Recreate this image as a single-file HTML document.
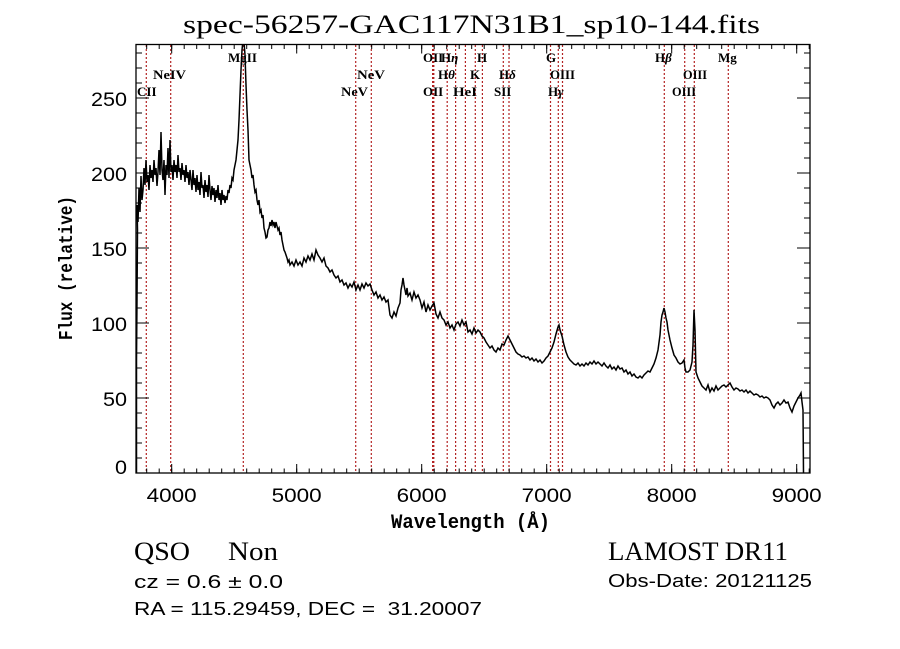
<!DOCTYPE html>
<html><head><meta charset="utf-8"><style>
html,body{margin:0;padding:0;background:#fff;}
svg{display:block;}
.lab{font-family:"Liberation Serif",serif;font-weight:bold;font-size:13px;fill:#000;}
.tk{font-family:"Liberation Sans",sans-serif;font-size:19px;fill:#000;}
</style></head><body>
<svg width="900" height="649" viewBox="0 0 900 649" xmlns="http://www.w3.org/2000/svg">
<rect x="0" y="0" width="900" height="649" fill="#fff"/>
<defs><clipPath id="pc"><rect x="136" y="44.5" width="674" height="428.5"/></clipPath></defs>

<!-- title -->
<text x="183" y="33" font-family="Liberation Serif, serif" font-size="26" textLength="577" lengthAdjust="spacingAndGlyphs">spec-56257-GAC117N31B1_sp10-144.fits</text>

<!-- red dotted lines -->
<g stroke="#b22222" stroke-width="1.2" stroke-dasharray="2 2" fill="none">
<path d="M146.3 45V473M170.7 45V473M243.3 45V473M355.7 45V473M371.3 45V473M432.6 45V473M433.8 45V473M447.2 45V473M455.6 45V473M465.4 45V473M475.3 45V473M482.4 45V473M503.3 45V473M509 45V473M550.5 45V473M558.3 45V473M562.5 45V473M664.3 45V473M684.7 45V473M694.3 45V473M728.3 45V473"/>
</g>

<!-- line labels -->
<g class="lab">
<text x="228" y="62">MgII</text>
<text x="423" y="62">OII</text>
<text x="441" y="62">H<tspan font-style="italic">η</tspan></text>
<text x="477" y="62">H</text>
<text x="546" y="62">G</text>
<text x="655" y="62">H<tspan font-style="italic">β</tspan></text>
<text x="718" y="62">Mg</text>
<text x="153" y="79" textLength="33" lengthAdjust="spacingAndGlyphs">NeIV</text>
<text x="357" y="79" textLength="28" lengthAdjust="spacingAndGlyphs">NeV</text>
<text x="438" y="79">H<tspan font-style="italic">θ</tspan></text>
<text x="470" y="79">K</text>
<text x="499" y="79">H<tspan font-style="italic">δ</tspan></text>
<text x="550" y="79" textLength="25" lengthAdjust="spacingAndGlyphs">OIII</text>
<text x="683" y="79" textLength="24" lengthAdjust="spacingAndGlyphs">OIII</text>
<text x="137" y="96">CII</text>
<text x="341" y="96" textLength="27" lengthAdjust="spacingAndGlyphs">NeV</text>
<text x="423" y="96">OII</text>
<text x="453" y="96" textLength="24" lengthAdjust="spacingAndGlyphs">HeI</text>
<text x="494" y="96">SII</text>
<text x="548" y="96">H<tspan font-style="italic">γ</tspan></text>
<text x="672" y="96" textLength="24" lengthAdjust="spacingAndGlyphs">OIII</text>
</g>

<!-- spectrum -->
<g clip-path="url(#pc)">
<polyline fill="none" stroke="#000" stroke-width="1.5" stroke-linejoin="miter" points="
136.5,473 136.5,360 137,300 137.5,230 137,205 138,222 139,188 140,212 141,176 142,200 143,190 144,168 145,185 146,160 147,182 148,175 149,190 150,165 151,178 152,170 153,182 154,160 155,175 156,168 157,186 158,172 159,150 160,175 161,132 162,170 163,180 164,160 165,195 166,165 167,175 168,148 169,178 170,140 171,172 172,165 173,180 174,160 175,172 176,165 177,178 178,155 179,172 180,168 181,180 182,163 183,175 184,170 185,182 186,165 187,178 188,172 189,185 190,170 191,180 192,190 193,170 194,185 195,178 196,192 197,175 198,190 199,182 200,195 201,172 202,188 203,185 204,198 205,180 206,192 207,185 208,197 209,175 210,190 211,200 212,186 213,195 214,188 215,202 216,190 217,198 218,185 219,200 220,193 221,205 222,190 223,200 224,195 225,203 226,196 227,200 228,190 229,193 230,185 231,188 232,178 233,180 234,170 235,165 236,160 237,150 238,140 239,120 240,95 241,70 242,50 243,40 244,42 245,55 246,85 247,110 248,130 249,160 250,165 251,170 252,178 253,175 254,185 255,192 256,190 257,200 258,205 259,200 260,212 261,210 262,218 263,215 264,228 265,232 266,238 267,237 268,230 269,228 270,222 271,226 272,220 273,225 274,222 275,228 276,222 277,226 278,230 279,228 280,235 281,232 282,240 283,245 284,250 285,252 286,255 287,258 288,262 289,260 290,265 292,262 294,266 296,260 298,265 300,262 302,266 304,258 306,262 308,256 310,260 312,254 314,260 316,250 318,255 320,258 322,262 324,258 326,266 328,268 330,272 332,270 334,275 336,278 338,276 340,282 342,280 344,285 346,283 348,288 350,284 352,287 354,282 356,290 358,285 360,290 362,284 364,288 366,283 368,286 370,284 372,290 374,295 376,292 378,298 380,295 382,300 384,297 386,302 388,300 390,315 392,318 394,312 396,316 398,308 400,303 401,290 402,285 403,278 404,285 405,290 406,295 407,288 408,296 410,293 412,300 414,292 416,298 418,295 420,300 422,308 424,302 426,312 428,305 430,310 432,306 434,303 436,314 438,318 440,312 442,318 444,320 446,325 448,322 450,328 452,325 454,330 456,324 458,322 460,326 462,320 464,325 466,322 468,332 470,330 472,334 474,328 476,333 478,330 480,332 482,336 484,338 486,342 488,345 490,348 492,346 494,350 496,352 498,348 500,350 502,344 504,345 506,340 508,336 510,340 512,344 514,348 516,352 518,354 520,355 522,357 524,356 526,358 528,357 530,360 532,358 534,361 536,359 538,362 540,360 542,363 544,361 546,358 548,356 550,352 552,348 554,342 556,334 558,327 559,325 560,330 562,336 564,345 566,352 568,357 570,360 572,362 574,364 576,365 578,363 580,366 582,364 584,366 586,363 588,365 590,362 592,364 594,361 596,364 598,362 600,364 602,366 604,363 606,366 608,368 610,365 612,369 614,367 616,370 618,366 620,369 622,368 624,372 626,370 628,374 630,372 632,376 634,374 636,377 638,378 640,376 642,378 644,375 646,373 648,371 650,372 652,368 654,364 656,358 658,350 660,335 661,322 662,315 663,312 664,308 665,312 666,318 667,322 668,330 670,340 672,348 674,355 676,358 678,362 680,364 682,363 684,360 685,368 686,372 688,372 690,370 692,362 693,345 694,310 695,330 696,372 698,378 700,382 702,386 704,388 706,390 708,385 710,392 712,388 714,391 716,386 718,390 720,388 722,386 724,385 726,387 728,385 730,383 732,387 734,390 736,388 738,389 740,391 742,390 744,392 746,390 748,393 750,391 752,393 754,395 756,394 758,395 760,397 762,396 764,398 766,397 768,398 770,400 772,405 774,408 776,404 778,402 780,405 782,403 784,400 786,403 788,402 790,408 792,412 794,406 796,402 798,398 800,395 801,393 802,402 803,410 803.5,473"/>
</g>

<!-- axes box -->
<rect x="136" y="44.5" width="674" height="428.5" fill="none" stroke="#000" stroke-width="1.3"/>

<!-- ticks via dash patterns -->
<g stroke="#000" fill="none">
<!-- bottom minor -->
<line x1="146.2" y1="470.8" x2="810" y2="470.8" stroke-width="4.5" stroke-dasharray="1 11.5"/>
<!-- bottom major -->
<line x1="171.2" y1="468.5" x2="810" y2="468.5" stroke-width="9" stroke-dasharray="1 124"/>
<!-- top minor -->
<line x1="146.2" y1="46.75" x2="810" y2="46.75" stroke-width="4.5" stroke-dasharray="1 11.5"/>
<!-- top major -->
<line x1="171.2" y1="49" x2="810" y2="49" stroke-width="9" stroke-dasharray="1 124"/>
<!-- left minor -->
<line x1="139" y1="473.5" x2="139" y2="44" stroke-width="6" stroke-dasharray="1 14"/>
<!-- left major -->
<line x1="142.5" y1="473.5" x2="142.5" y2="44" stroke-width="13" stroke-dasharray="1 74"/>
<!-- right minor -->
<line x1="807" y1="473.5" x2="807" y2="44" stroke-width="6" stroke-dasharray="1 14"/>
<!-- right major -->
<line x1="803.5" y1="473.5" x2="803.5" y2="44" stroke-width="13" stroke-dasharray="1 74"/>
</g>

<!-- x tick labels -->
<g class="tk" text-anchor="middle">
<text x="171.7" y="502" textLength="50" lengthAdjust="spacingAndGlyphs">4000</text>
<text x="296.7" y="502" textLength="50" lengthAdjust="spacingAndGlyphs">5000</text>
<text x="421.7" y="502" textLength="50" lengthAdjust="spacingAndGlyphs">6000</text>
<text x="546.7" y="502" textLength="50" lengthAdjust="spacingAndGlyphs">7000</text>
<text x="671.7" y="502" textLength="50" lengthAdjust="spacingAndGlyphs">8000</text>
<text x="796.7" y="502" textLength="50" lengthAdjust="spacingAndGlyphs">9000</text>
</g>
<!-- y tick labels -->
<g class="tk">
<text x="115" y="474" textLength="12" lengthAdjust="spacingAndGlyphs">0</text>
<text x="103" y="406" textLength="24" lengthAdjust="spacingAndGlyphs">50</text>
<text x="91" y="331" textLength="36" lengthAdjust="spacingAndGlyphs">100</text>
<text x="91" y="256" textLength="36" lengthAdjust="spacingAndGlyphs">150</text>
<text x="91" y="181" textLength="36" lengthAdjust="spacingAndGlyphs">200</text>
<text x="91" y="106" textLength="36" lengthAdjust="spacingAndGlyphs">250</text>
</g>

<!-- axis titles -->
<text x="391" y="528" font-family="Liberation Mono, monospace" font-weight="bold" font-size="20" textLength="159" lengthAdjust="spacingAndGlyphs">Wavelength (Å)</text>
<text transform="translate(72,340) rotate(-90)" x="0" y="0" font-family="Liberation Mono, monospace" font-weight="bold" font-size="19" textLength="144" lengthAdjust="spacingAndGlyphs">Flux (relative)</text>

<!-- bottom info -->
<text x="134" y="560" font-family="Liberation Serif, serif" font-size="26" textLength="56" lengthAdjust="spacingAndGlyphs">QSO</text>
<text x="228" y="560" font-family="Liberation Serif, serif" font-size="26" textLength="50" lengthAdjust="spacingAndGlyphs">Non</text>
<text x="134" y="588" font-family="Liberation Sans, sans-serif" font-size="18" textLength="149" lengthAdjust="spacingAndGlyphs">cz = 0.6 ± 0.0</text>
<text x="134" y="615" font-family="Liberation Sans, sans-serif" font-size="18" textLength="348" lengthAdjust="spacingAndGlyphs" xml:space="preserve">RA = 115.29459, DEC =  31.20007</text>
<text x="608" y="560" font-family="Liberation Serif, serif" font-size="26" textLength="180" lengthAdjust="spacingAndGlyphs">LAMOST DR11</text>
<text x="608" y="587" font-family="Liberation Sans, sans-serif" font-size="18" textLength="204" lengthAdjust="spacingAndGlyphs">Obs-Date: 20121125</text>
</svg>
</body></html>
